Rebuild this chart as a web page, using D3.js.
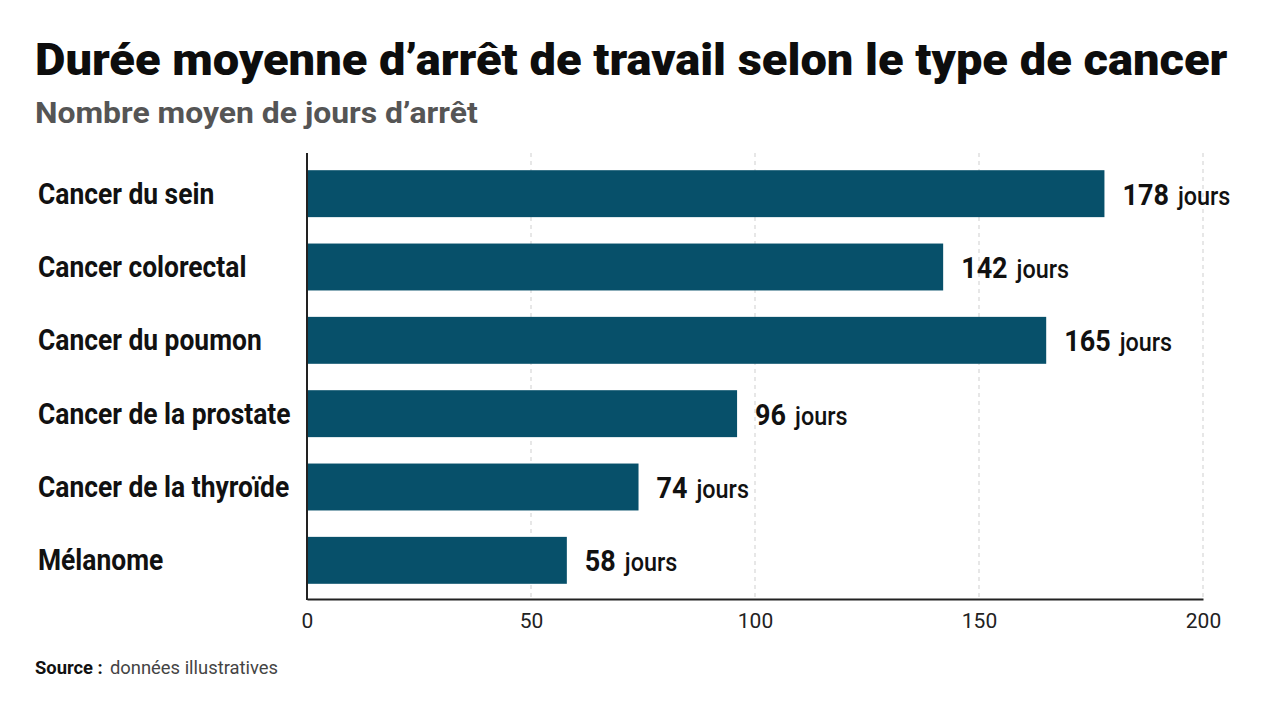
<!DOCTYPE html>
<html>
<head>
<meta charset="utf-8">
<script src="https://cdn.jsdelivr.net/npm/d3@7"></script>
<style>
    body { margin: 0; background: #fff; }
    svg { display: block; font-family: Roboto, "Liberation Sans", sans-serif; }
</style>
</head>
<body>
<div id="chart"></div>
<script>
/* global d3 */

var categories = ["Cancer du sein", "Cancer colorectal", "Cancer du poumon",
    "Cancer de la prostate", "Cancer de la thyroïde", "Mélanome"];
var values = [178, 142, 165, 96, 74, 58];
var tickValues = [0, 50, 100, 150, 200];
var unit = "jours";

var title = "Durée moyenne d\u2019arrêt de travail selon le type de cancer";
var subtitle = "Nombre moyen de jours d\u2019arrêt";
var sourceLabel = "Source :";
var sourceText = "données illustratives";

var width = 1280,
    height = 702,
    margin = {top: 157, right: 77, bottom: 105, left: 307},
    barColor = "#07506a";

var data = categories.map(function(c, i) { return {name: c, value: values[i]}; });

var svg = d3.select("#chart").append("svg")
    .attr("width", width)
    .attr("height", height);

// squeeze a text horizontally so it spans the wanted width (narrow font look)
function squeeze(sel, target) {
    sel.each(function() {
        var w = this.getComputedTextLength();
        var x = +d3.select(this).attr("x") || 0;
        var k = target / w;
        d3.select(this).attr("transform",
            "translate(" + x + ",0) scale(" + k + ",1) translate(" + (-x) + ",0)");
    });
}

// Titles
svg.append("text")
    .attr("x", 35).attr("y", 75)
    .style("font-size", "45px").style("font-weight", 900)
    .style("fill", "#0d0d0d")
    .text(title)
    .call(squeeze, 1193);

svg.append("text")
    .attr("x", 35).attr("y", 123)
    .style("font-size", "29px").style("font-weight", 700)
    .style("fill", "#555")
    .text(subtitle)
    .call(squeeze, 443);

var x = d3.scaleLinear()
    .domain([0, 200])
    .range([margin.left, 1203]);

var y = d3.scaleBand()
    .domain(categories)
    .range([margin.top, height - margin.bottom])
    .paddingInner(0.36)
    .paddingOuter(0.18);

// dashed gridlines
svg.append("g").attr("class", "grid")
    .selectAll("line")
    .data(tickValues.slice(1))
    .enter().append("line")
    .attr("x1", function(d) { return x(d); })
    .attr("x2", function(d) { return x(d); })
    .attr("y1", 153)
    .attr("y2", height - margin.bottom)
    .attr("stroke", "#cfcfcf")
    .attr("stroke-width", 1)
    .attr("stroke-dasharray", "4,4");

// bars
svg.append("g")
    .selectAll("rect")
    .data(data)
    .enter().append("rect")
    .attr("x", x(0))
    .attr("y", function(d) { return y(d.name); })
    .attr("width", function(d) { return x(d.value) - x(0); })
    .attr("height", y.bandwidth())
    .attr("fill", barColor);

// category labels
svg.append("g")
    .selectAll("text")
    .data(data)
    .enter().append("text")
    .attr("x", 38)
    .attr("y", function(d) { return y(d.name) + y.bandwidth() / 2 + 10; })
    .style("font-size", "30px").style("font-weight", 700)
    .style("fill", "#111")
    .text(function(d) { return d.name; })
    .each(function() {
        d3.select(this).call(squeeze, this.getComputedTextLength() * 0.88);
    });

// value labels
var valueLabels = svg.append("g")
    .selectAll("text")
    .data(data)
    .enter().append("text")
    .attr("x", function(d) { return x(d.value) + 18; })
    .attr("y", function(d) { return y(d.name) + y.bandwidth() / 2 + 11; })
    .style("fill", "#111");

valueLabels.append("tspan")
    .style("font-size", "30px").style("font-weight", 700)
    .text(function(d) { return d.value; });

valueLabels.append("tspan")
    .attr("dx", 10)
    .style("font-size", "26px").style("font-weight", 500)
    .text(unit);

valueLabels.each(function() {
    d3.select(this).call(squeeze, this.getComputedTextLength() * 0.9);
});

// x axis
var xAxis = svg.append("g")
    .attr("transform", "translate(0," + (height - margin.bottom + 2) + ")")
    .call(d3.axisBottom(x).tickValues(tickValues).tickSize(0).tickPadding(14));

xAxis.select(".domain")
    .attr("stroke", "#222")
    .attr("stroke-width", 2);

xAxis.selectAll("text")
    .style("font-family", "Roboto, sans-serif")
    .style("font-size", "21px")
    .style("fill", "#222");

// y axis line
svg.append("line")
    .attr("x1", x(0)).attr("x2", x(0))
    .attr("y1", 153).attr("y2", height - margin.bottom + 3)
    .attr("stroke", "#222")
    .attr("stroke-width", 2);

// source
var source = svg.append("text")
    .attr("x", 35).attr("y", 674)
    .style("font-size", "18px");

source.append("tspan")
    .style("font-weight", 700).style("fill", "#111")
    .text(sourceLabel);

source.append("tspan")
    .attr("dx", 7)
    .style("fill", "#444")
    .text(sourceText);

source.call(squeeze, 236);
</script>
</body>
</html>
